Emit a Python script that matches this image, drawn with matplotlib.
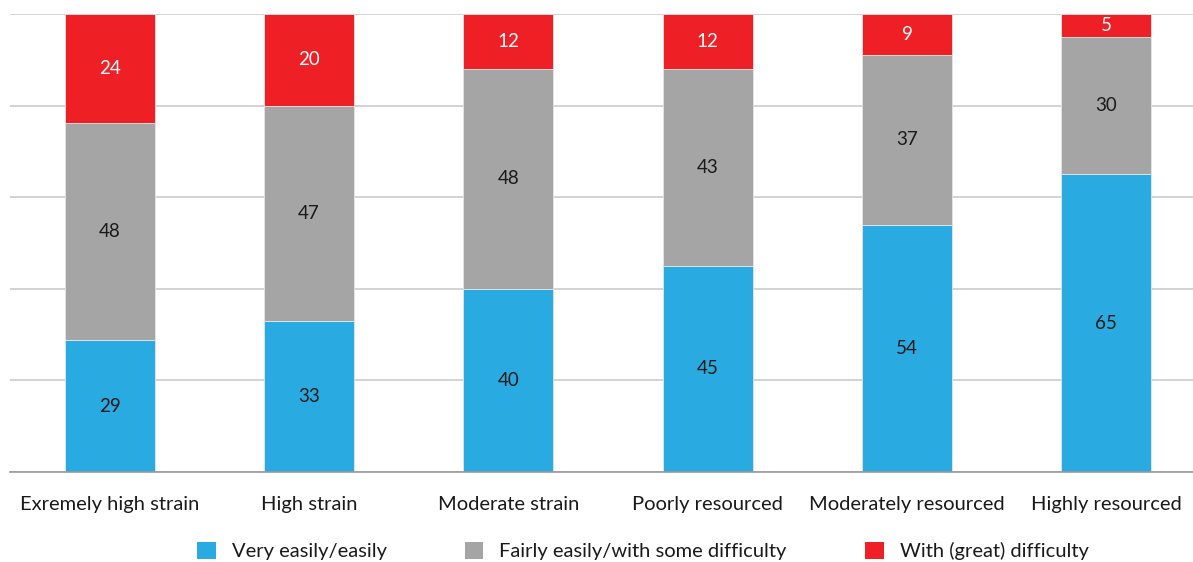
import numpy as np
import matplotlib
matplotlib.use('Agg')
import matplotlib.pyplot as plt
from matplotlib.patches import Patch

plt.rcParams['font.family'] = ['Lato', 'DejaVu Sans']

categories = ['Exremely high strain', 'High strain', 'Moderate strain',
              'Poorly resourced', 'Moderately resourced', 'Highly resourced']
series_names = ['Very easily/easily', 'Fairly easily/with some difficulty',
                'With (great) difficulty']
easy = [29, 33, 40, 45, 54, 65]
some = [48, 47, 48, 43, 37, 30]
great = [24, 20, 12, 12, 9, 5]
colors = ['#29abe2', '#a5a5a5', '#ee1f25']
label_colors = ['#1a1a1a', '#1a1a1a', 'white']

fig = plt.figure(figsize=(11.93, 5.62), dpi=100)
ax = fig.add_axes([10 / 1193, 90 / 562, 1196 / 1193, 458 / 562])

x = np.arange(len(categories))
totals = np.array(easy) + np.array(some) + np.array(great)
bottom = np.zeros(len(categories))
for vals, col, lc in zip([easy, some, great], colors, label_colors):
    raw = np.array(vals, dtype=float)
    share = raw / totals * 100
    ax.bar(x, share, 0.45, bottom=bottom, color=col, edgecolor='#e6e6e6',
           linewidth=0.6, zorder=3)
    for xi, b, s, v in zip(x, bottom, share, raw):
        ax.text(xi, b + s / 2, str(int(v)), ha='center', va='center',
                fontsize=13.5, color=lc, zorder=4)
    bottom += share

ax.set_xlim(-0.5, 5.5)
ax.set_ylim(0, 100)
ax.set_yticks([0, 20, 40, 60, 80, 100])
ax.yaxis.grid(True, color='#cccccc', linewidth=1.2, zorder=0)
ax.tick_params(axis='y', left=False, labelleft=False)
ax.tick_params(axis='x', length=0, pad=17, labelsize=14.5)
ax.set_xticks(x)
ax.set_xticklabels(categories, color='#1a1a1a')
for s in ['top', 'right', 'left']:
    ax.spines[s].set_visible(False)
ax.spines['bottom'].set_color('#999999')
ax.spines['bottom'].set_linewidth(1.2)
ax.spines['bottom'].set_zorder(5)

handles = [Patch(facecolor=c, edgecolor='none') for c in colors]
fig.legend(handles, series_names, loc='center', ncol=3,
           bbox_to_anchor=(643 / 1193, 11 / 562), frameon=False,
           fontsize=14.5, handlelength=0.9, handleheight=0.9,
           handletextpad=0.8, columnspacing=3.9, labelcolor='#1a1a1a')

fig.savefig('out.png', dpi=100)
